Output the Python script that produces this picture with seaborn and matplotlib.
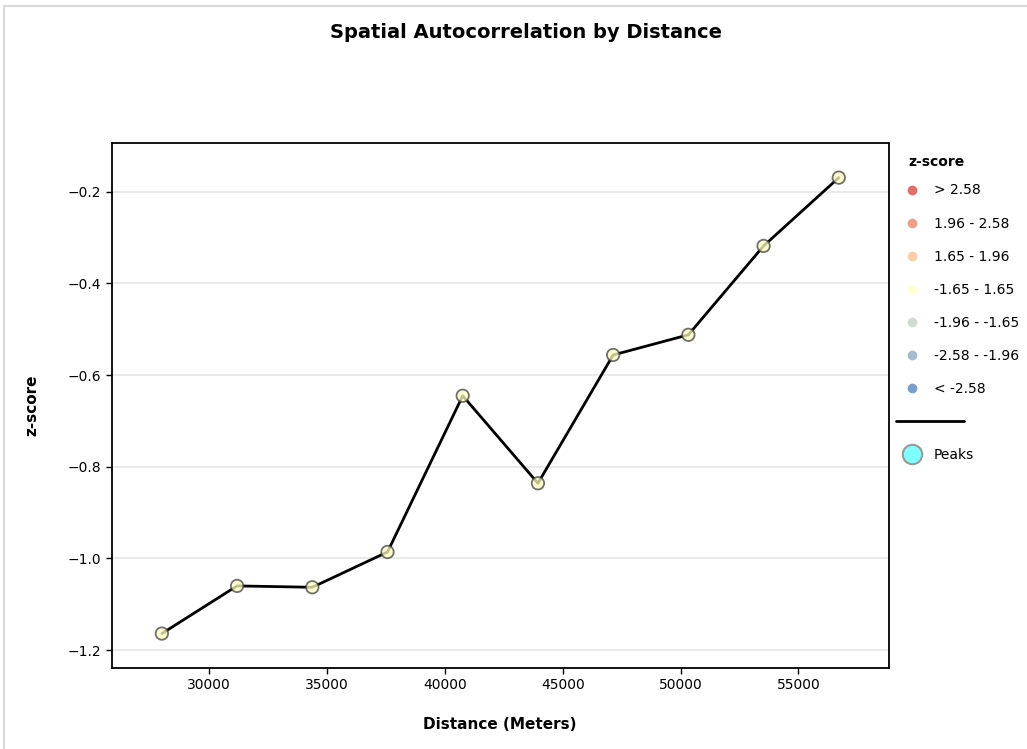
import matplotlib
matplotlib.use("Agg")
import matplotlib.pyplot as plt
from matplotlib.lines import Line2D
from matplotlib.legend_handler import HandlerBase
from matplotlib.patches import Rectangle
import seaborn as sns
import pandas as pd

# Incremental spatial autocorrelation results
distance = [28000, 31190, 34380, 37570, 40760, 43950, 47140, 50330, 53520, 56710]
zscore = [-1.164, -1.060, -1.063, -0.986, -0.645, -0.836, -0.556, -0.512, -0.318, -0.169]

# z-score classes and their colours
class_labels = ["> 2.58", "1.96 - 2.58", "1.65 - 1.96", "-1.65 - 1.65",
                "-1.96 - -1.65", "-2.58 - -1.96", "< -2.58"]
class_colors = ["#d62f27", "#ed7551", "#fab984", "#ffffbf",
                "#c0ccbe", "#849eba", "#4575b5"]
class_edges = [float("inf"), 2.58, 1.96, 1.65, -1.65, -1.96, -2.58, float("-inf")]

df = pd.DataFrame({"distance": distance, "zscore": zscore})


def classify(z):
    for i in range(len(class_labels)):
        if class_edges[i + 1] < z <= class_edges[i]:
            return class_labels[i]
    return class_labels[-1]


df["zclass"] = df["zscore"].apply(classify)
palette = dict(zip(class_labels, class_colors))

sns.set_theme(style="white")
plt.rcParams["font.family"] = ["DejaVu Sans"]
plt.rcParams["text.color"] = "black"
plt.rcParams["axes.labelcolor"] = "black"

fig = plt.figure(figsize=(10.27, 7.49), dpi=100)
ax = fig.add_axes([0.1088, 0.1085, 0.7568, 0.7008])

sns.lineplot(data=df, x="distance", y="zscore", color="black", linewidth=2,
             ax=ax, zorder=2)
sns.scatterplot(data=df, x="distance", y="zscore", hue="zclass", palette=palette,
                s=80, edgecolor="#404040", linewidth=1.3, alpha=0.75,
                ax=ax, zorder=3, legend=False)

ax.set_xlim(25874, 58838)
ax.set_ylim(-1.2386, -0.093)
ax.set_yticks([-1.2, -1.0, -0.8, -0.6, -0.4, -0.2])
ax.set_xticks([30000, 35000, 40000, 45000, 50000, 55000])
ax.yaxis.grid(True, color="#e6e6e6", linewidth=1.2)
ax.xaxis.grid(False)
for sp in ax.spines.values():
    sp.set_color("black")
    sp.set_linewidth(1.3)
ax.tick_params(axis="both", which="both", length=4, width=1, color="black",
               labelsize=10, bottom=True, left=True, labelcolor="black")

ax.set_xlabel("Distance (Meters)", fontsize=11, fontweight="bold")
ax.set_ylabel("z-score", fontsize=11, fontweight="bold")
ax.xaxis.set_label_coords(0.4996, -0.094)
ax.yaxis.set_label_coords(-0.093, 0.5)

fig.text(0.512, 1 - 33 / 749, "Spatial Autocorrelation by Distance",
         ha="center", va="center", fontsize=14, fontweight="bold")


class LongLineHandler(HandlerBase):
    def create_artists(self, legend, orig_handle, xdescent, ydescent,
                       width, height, fontsize, trans):
        y = height / 2 - ydescent
        line = Line2D([-xdescent - 7, -xdescent + 42], [y, y],
                      color="black", linewidth=2, transform=trans)
        return [line]


handles = [Line2D([], [], marker="o", linestyle="none", markersize=7,
                  markerfacecolor=c, markeredgecolor="none", alpha=0.7)
           for c in class_colors]
labels = list(class_labels)
sep = Line2D([], [], color="black")
handles.append(sep)
labels.append("")
handles.append(Line2D([], [], marker="o", linestyle="none", markersize=14,
                      markerfacecolor="#80ffff", markeredgecolor="#999999",
                      markeredgewidth=1.5))
labels.append("Peaks")

leg = fig.legend(handles, labels, loc="upper left",
                 bbox_to_anchor=(893 / 1027, 1 - 171 / 749), frameon=False,
                 fontsize=10, labelspacing=1.37, handlelength=1.0,
                 handletextpad=1.05, alignment="left",
                 handler_map={sep: LongLineHandler()})

fig.text(908 / 1027, 1 - 162 / 749, "z-score", ha="left", va="center",
         fontsize=10, fontweight="bold")

fig.add_artist(Rectangle((3.5 / 1027, -0.1), 1.2, 1 - 5.5 / 749 + 0.1,
                         transform=fig.transFigure, fill=False,
                         edgecolor="#d9d9d9", linewidth=1.5, clip_on=False))

fig.savefig("out.png", dpi=100)
